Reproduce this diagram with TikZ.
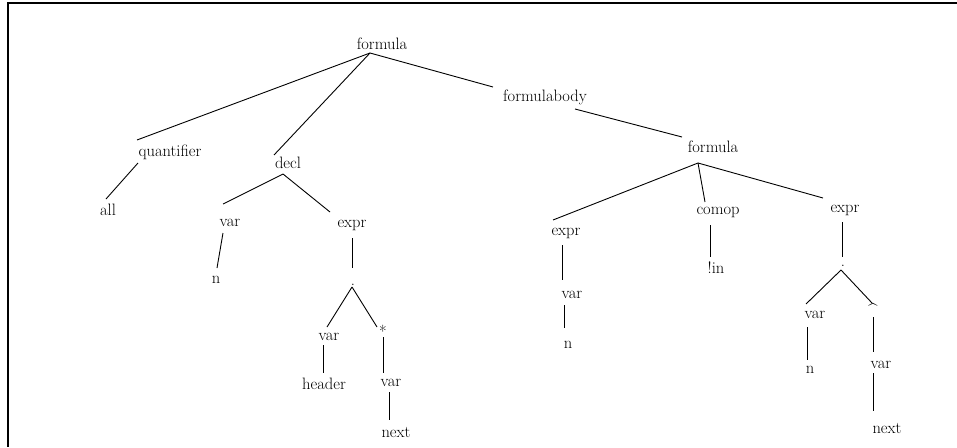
\documentclass[tikz,border=0pt]{standalone}
\usepackage{fontspec}
\begin{document}
\begin{tikzpicture}[x=1pt,y=-1pt,
  lbl/.style={inner sep=0pt,font=\fontsize{16.5}{18}\selectfont\addfontfeature{FakeBold=0.8}},
  edge/.style={line width=0.9pt},
  frame/.style={line width=1.4pt}]
\useasboundingbox (0,0) rectangle (957,447);
% open frame: top and left rules
\coordinate (fTR) at (957,3);
\coordinate (fTL) at (8,3);
\coordinate (fBL) at (8,447);
\draw[frame] (fTR) -- (fTL) -- (fBL);

% labels
\node[lbl] (root)  at (382,44)  {formula};
\node[lbl] (quant) at (170,152) {quantifier};
\node[lbl] (all)   at (108,210) {all};
\node[lbl] (decl)  at (288,163) {decl};
\node[lbl] (varA)  at (230,223) {var};
\node[lbl] (nA)    at (216,280) {n};
\node[lbl] (exprA) at (352,225) {expr};
\node[lbl,anchor=base] (dotA) at (353,285) {.};
\node[lbl] (varB)  at (329,337) {var};
\node[lbl] (hdr)   at (324,384) {header};
\node[lbl] (star)  at (383,331) {*};
\node[lbl] (varC)  at (391,383) {var};
\node[lbl] (nextA) at (396,432) {next};
\node[lbl] (fbody) at (545,97)  {formulabody};
\node[lbl] (form2) at (713,147) {formula};
\node[lbl] (exprL) at (566,233) {expr};
\node[lbl] (varL)  at (572,295) {var};
\node[lbl] (nL)    at (568,345) {n};
\node[lbl] (comop) at (718,212) {comop};
\node[lbl] (notin) at (716,268) {!in};
\node[lbl] (exprR) at (845,210) {expr};
\node[lbl,anchor=base] (dotB) at (843,266) {.};
\node[lbl] (varR)  at (815,315) {var};
\node[lbl] (nR)    at (810,370) {n};
\node[lbl] (hat)   at (873,309) {\textasciicircum};
\node[lbl] (varS)  at (881,365) {var};
\node[lbl] (nextB) at (887,428) {next};

% junction points below each parent
\coordinate (root-j)  at (370,53);
\coordinate (quant-j) at (138,163);
\coordinate (decl-j)  at (283,174);
\coordinate (varA-j)  at (223,233);
\coordinate (exprA-j) at (352,238);
\coordinate (dotA-j)  at (352,287);
\coordinate (varB-j)  at (323,345);
\coordinate (star-j)  at (383,337);
\coordinate (varC-j)  at (389,392);
\coordinate (fbody-j) at (575,109);
\coordinate (form2-j) at (698,163);
\coordinate (exprL-j) at (562,245);
\coordinate (varL-j)  at (564,305);
\coordinate (comop-j) at (710,225);
\coordinate (exprR-j) at (842,222);
\coordinate (dotB-j)  at (841,270);
\coordinate (varR-j)  at (807,327);
\coordinate (hat-j)   at (873,317);
\coordinate (varS-j)  at (873,373);

% entry points above each child
\coordinate (quant-t) at (137,140);
\coordinate (all-t)   at (106,199);
\coordinate (decl-t)  at (274,155);
\coordinate (varA-t)  at (223,204);
\coordinate (nA-t)    at (217,268);
\coordinate (exprA-t) at (330,212);
\coordinate (dotA-t)  at (352,268);
\coordinate (varB-t)  at (327,327);
\coordinate (star-t)  at (377,327);
\coordinate (hdr-t)   at (323,373);
\coordinate (varC-t)  at (383,373);
\coordinate (nextA-t) at (389,420);
\coordinate (fbody-t) at (493,87);
\coordinate (form2-t) at (682,137);
\coordinate (exprL-t) at (553,220);
\coordinate (varL-t)  at (562,280);
\coordinate (nL-t)    at (564,328);
\coordinate (comop-t) at (705,202);
\coordinate (notin-t) at (710,257);
\coordinate (exprR-t) at (823,198);
\coordinate (dotB-t)  at (842,257);
\coordinate (varR-t)  at (806,304);
\coordinate (nR-t)    at (807,360);
\coordinate (hat-t)   at (872,303);
\coordinate (varS-t)  at (873,352);
\coordinate (nextB-t) at (873,411);

% tree edges
\foreach \p/\c in {root/quant, root/decl, root/fbody, quant/all,
    decl/varA, decl/exprA, varA/nA, exprA/dotA, dotA/varB, dotA/star,
    varB/hdr, star/varC, varC/nextA, fbody/form2, form2/exprL,
    form2/comop, form2/exprR, exprL/varL, varL/nL, comop/notin,
    exprR/dotB, dotB/varR, dotB/hat, varR/nR, hat/varS, varS/nextB}
  \draw[edge] (\p-j) -- (\c-t);
\end{tikzpicture}
\end{document}
